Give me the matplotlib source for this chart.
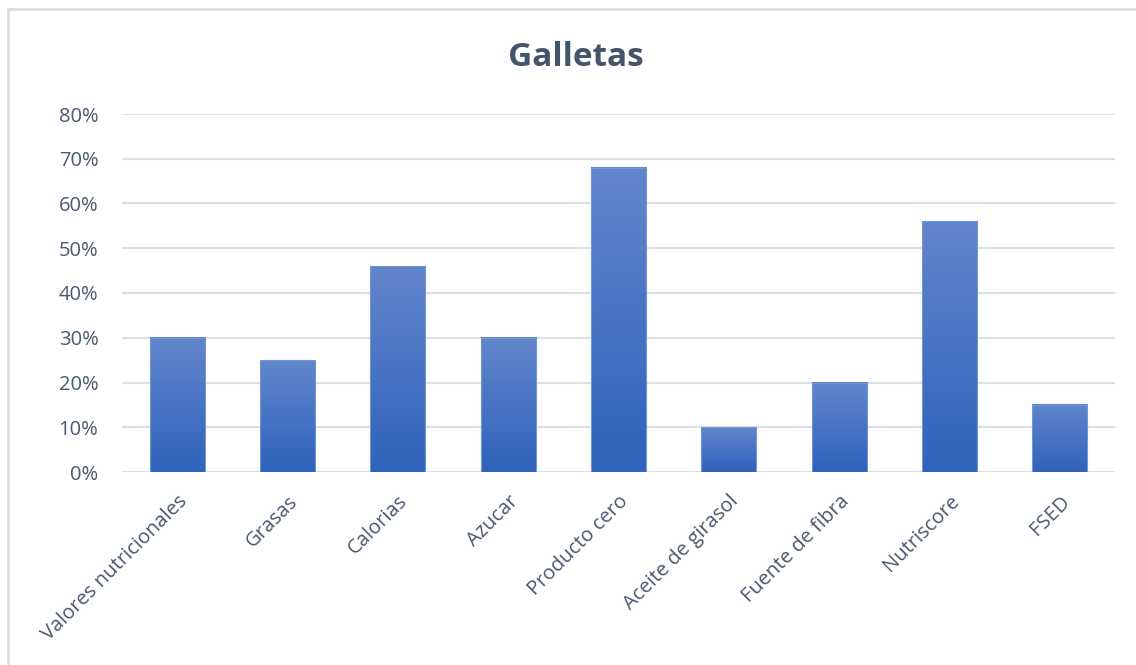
import numpy as np
import matplotlib
matplotlib.use('Agg')
import matplotlib.pyplot as plt
from matplotlib.lines import Line2D
from matplotlib.ticker import PercentFormatter

# data
categories = ['Valores nutricionales', 'Grasas', 'Calorias', 'Azucar', 'Producto cero',
              'Aceite de girasol', 'Fuente de fibra', 'Nutriscore', 'FSED']
values = [30, 25, 46, 30, 68, 10, 20, 56, 15]
y_ticks = [0, 10, 20, 30, 40, 50, 60, 70, 80]

text_color = '#4A5870'
grid_color = '#DCE0E8'
top_color = np.array([0x62, 0x86, 0xCC]) / 255
bottom_color = np.array([0x2F, 0x62, 0xBA]) / 255

plt.rcParams['font.family'] = ['Open Sans', 'DejaVu Sans']

fig = plt.figure(figsize=(11.36, 6.65), dpi=100)
ax = fig.add_axes([122 / 1136, 1 - 472 / 665, (1115 - 122) / 1136, (472 - 114) / 665])

# vertical gradient, light at top, dark at bottom
t = np.linspace(0, 1, 256)[:, None]
grad = top_color * (1 - t[:, :, None]) + bottom_color * t[:, :, None]

x = np.arange(len(categories))
width = 0.5
for xi, v in zip(x, values):
    ax.imshow(grad, extent=[xi - width / 2, xi + width / 2, 0, v],
              aspect='auto', interpolation='bilinear', zorder=2)
    ax.add_patch(plt.Rectangle((xi - width / 2, 0), width, v, fill=False,
                               edgecolor='#7096D8', linewidth=0.8, zorder=3))

ax.set_xlim(-0.5, len(categories) - 0.5)
ax.set_ylim(0, 80)
ax.set_yticks(y_ticks)
ax.yaxis.set_major_formatter(PercentFormatter(decimals=0))
ax.set_xticks(x)
ax.set_xticklabels(categories, rotation=45, ha='right', rotation_mode='anchor')
ax.tick_params(axis='both', length=0, labelsize=14.5, colors=text_color)
ax.tick_params(axis='y', pad=17)
ax.tick_params(axis='x', pad=14)
ax.grid(axis='y', color=grid_color, linewidth=1.5, zorder=0)
ax.set_axisbelow(True)
for s in ax.spines.values():
    s.set_visible(False)

fig.text(576 / 1136, 1 - 58 / 665, 'Galletas', ha='center', va='center',
         fontsize=24, fontweight='bold', color='#44546A')

# chart area border (left and top visible)
fig.add_artist(Line2D([8 / 1136, 8 / 1136], [0, 1 - 9 / 665], color='#D9DEE6', linewidth=2))
fig.add_artist(Line2D([8 / 1136, 1], [1 - 9 / 665, 1 - 9 / 665], color='#D9DEE6', linewidth=2))

fig.savefig('out.png', dpi=100)
